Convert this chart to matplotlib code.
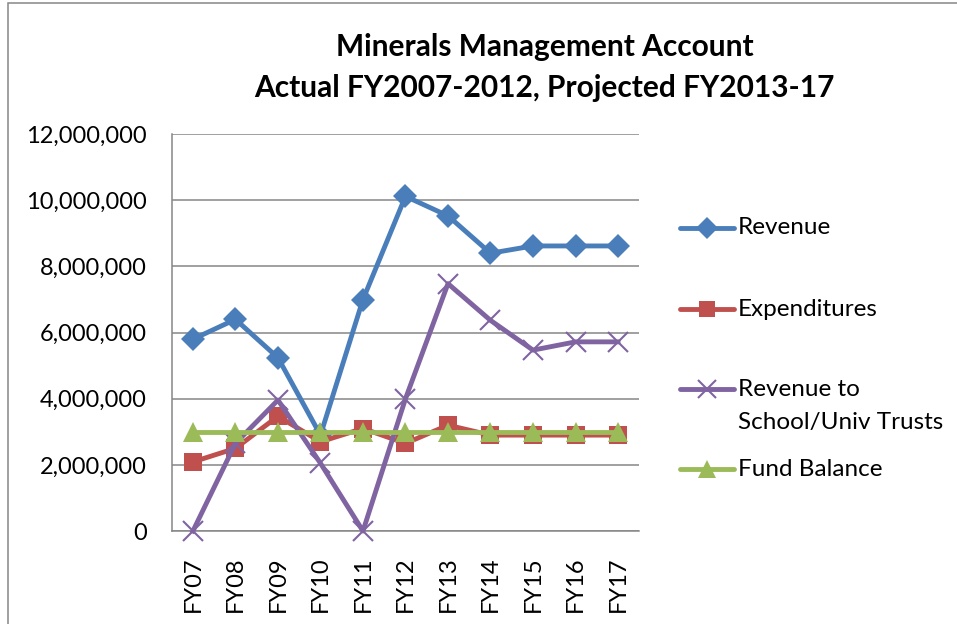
import numpy as np
import matplotlib
matplotlib.use("Agg")
import matplotlib.pyplot as plt
from matplotlib.lines import Line2D
from matplotlib.patches import Rectangle

plt.rcParams['font.family'] = ['Lato', 'DejaVu Sans']

# Data
years = ['FY07', 'FY08', 'FY09', 'FY10', 'FY11', 'FY12', 'FY13', 'FY14', 'FY15', 'FY16', 'FY17']
revenue = [5800000, 6400000, 5240000, 2900000, 7000000, 10120000, 9530000, 8400000, 8620000, 8620000, 8620000]
expenditures = [2090000, 2500000, 3470000, 2700000, 3100000, 2650000, 3200000, 2900000, 2900000, 2900000, 2900000]
trusts = [0, 2650000, 3960000, 2050000, 0, 4000000, 7480000, 6370000, 5470000, 5720000, 5720000]
fund_balance = [3000000] * 11

series = [
    ('Revenue', revenue, '#4A7EBB', 'D', 12.5),
    ('Expenditures', expenditures, '#C0504D', 's', 13),
    ('Revenue to\nSchool/Univ Trusts', trusts, '#8064A2', 'x', 15),
    ('Fund Balance', fund_balance, '#9BBB59', '^', 14),
]

fig = plt.figure(figsize=(9.57, 6.24), dpi=100)
ax = fig.add_axes([0.1794, 0.149, 0.668 - 0.1794, 0.785 - 0.149])

x = np.arange(len(years))
for i, (name, vals, col, mk, ms) in enumerate(series):
    mew = 1.5 if mk == 'x' else 0
    ax.plot(x, vals, color=col, lw=3.5, marker=mk, ms=ms, mfc=col, mec=col,
            mew=mew, zorder=3 + i, clip_on=False)

ax.set_xlim(-0.5, len(years) - 0.5)
ax.set_ylim(0, 12000000)
ax.set_yticks(np.arange(0, 12000001, 2000000))
ax.yaxis.set_major_formatter(matplotlib.ticker.FuncFormatter(lambda v, p: f'{int(v):,}'))
ax.set_xticks(x)
ax.set_xticklabels(years, rotation=90, fontsize=17)
ax.tick_params(axis='y', length=0, pad=18, labelsize=17)
ax.tick_params(axis='x', length=0, pad=18)
ax.grid(axis='y', color='#868686', lw=1.1)
ax.set_axisbelow(True)
for s in ['top', 'right']:
    ax.spines[s].set_visible(False)
for s in ['left', 'bottom']:
    ax.spines[s].set_color('#868686')
    ax.spines[s].set_linewidth(1.1)

fig.text(0.569, 0.925, 'Minerals Management Account', ha='center', va='center',
         fontsize=21.5, fontweight='bold')
fig.text(0.569, 0.859, 'Actual FY2007-2012, Projected FY2013-17', ha='center', va='center',
         fontsize=21.5, fontweight='bold')

# legend drawn by hand so the two-line label keeps its marker on the first line
W, H = 957, 624
leg_y = [228, 309, 389, 469]
for (name, vals, col, mk, ms), yy in zip(series, leg_y):
    mew = 1.5 if mk == 'x' else 0
    fig.add_artist(Line2D([680 / W, 734 / W], [1 - yy / H] * 2, color=col, lw=3.5,
                          solid_capstyle='round'))
    fig.add_artist(Line2D([707 / W], [1 - yy / H], color=col, marker=mk, ms=ms - 1.5,
                          mfc=col, mec=col, mew=mew))
    for k, line in enumerate(name.split('\n')):
        fig.text(738 / W, 1 - (yy + 33 * k) / H, line, ha='left', va='center', fontsize=17.5)

# outer chart frame
fig.add_artist(Rectangle((8 / W, -0.05), 1.1, 1.05 - 3 / H, fill=False,
                         edgecolor='#868686', lw=1.1, transform=fig.transFigure))

fig.savefig('out.png', dpi=100)
